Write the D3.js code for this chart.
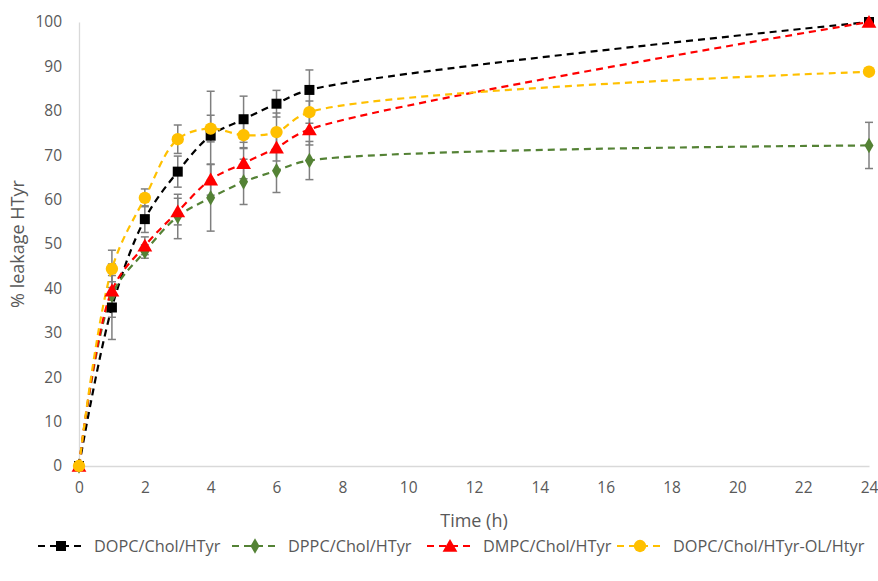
<!DOCTYPE html>
<html><head><meta charset="utf-8">
<script src="https://cdn.jsdelivr.net/npm/d3@7"></script>
<style>body{margin:0;background:#fff}svg{display:block}text{font-family:"Open Sans","Noto Sans",sans-serif;fill:#595959}</style>
</head><body><svg id="c" width="878" height="581"></svg>
<script>
const times = [0, 1, 2, 3, 4, 5, 6, 7, 24];
const xTicks = [0, 2, 4, 6, 8, 10, 12, 14, 16, 18, 20, 22, 24];
const yTicks = [0, 10, 20, 30, 40, 50, 60, 70, 80, 90, 100];
const names = ["DOPC/Chol/HTyr", "DPPC/Chol/HTyr", "DMPC/Chol/HTyr", "DOPC/Chol/HTyr-OL/Htyr"];
const dopc = [0, 35.7, 55.6, 66.3, 74.4, 78.1, 81.6, 84.7, 100];
const dppc = [0, 38.5, 48.3, 56.2, 60.4, 64.0, 66.5, 68.8, 72.2];
const dmpc = [0, 39.5, 49.6, 57.3, 64.5, 68.2, 71.7, 75.8, 100];
const dopcOl = [0, 44.4, 60.4, 73.6, 76.0, 74.5, 75.2, 79.7, 88.8];
const dopcErr = [0, 7.2, 3, 3.5, 10, 5.2, 3, 4.5, 0];
const dppcErr = [0, 3, 1.5, 5, 7.5, 5.1, 4.9, 4.3, 5.2];
const dmpcErr = [0, 6, 2, 3, 3.5, 3.5, 3, 3.5, 0];
const dopcOlErr = [0, 4.2, 2, 3.2, 3, 3, 4.3, 2.5, 0];
const colors = ["#000000", "#548235", "#ff0000", "#ffc000"];
const symbols = [d3.symbolSquare, d3.symbolDiamond, d3.symbolTriangle, d3.symbolCircle];
const sizes = [100, 70, 95, 120];
const values = [dopc, dppc, dmpc, dopcOl];
const errs = [dopcErr, dppcErr, dmpcErr, dopcOlErr];

const svg = d3.select("#c");
const x = d3.scaleLinear().domain([0, 24]).range([79, 869]);
const y = d3.scaleLinear().domain([0, 100]).range([466, 22]);

// axes
const xa = svg.append("g").attr("transform", `translate(0,${y(0)})`)
  .call(d3.axisBottom(x).tickValues(xTicks).tickSize(0).tickPadding(20));
const ya = svg.append("g").attr("transform", `translate(${x(0)},0)`)
  .call(d3.axisLeft(y).tickValues(yTicks).tickSize(0).tickPadding(17));
[xa, ya].forEach(a => {
  a.select(".domain").attr("stroke", "#d9d9d9").attr("stroke-width", 1.3);
  a.selectAll("text").style("font-size", "15.5px").attr("fill", "#595959").attr("font-family", '"Open Sans",sans-serif');
});
xa.selectAll("text").attr("dy", "0.45em");

svg.append("text").attr("x", x(12)).attr("y", 527).attr("text-anchor", "middle")
  .style("font-size", "18px").text("Time (h)");
svg.append("text").attr("transform", `translate(24,${y(50)}) rotate(-90)`).attr("text-anchor", "middle")
  .style("font-size", "18px").text("% leakage HTyr");

const line = d3.line().x((d, i) => x(times[i])).y(d => y(d)).curve(d3.curveCatmullRom.alpha(0.5));

// error bars
values.forEach((vals, s) => {
  const g = svg.append("g").attr("stroke", "#7f7f7f").attr("stroke-width", 1.5);
  vals.forEach((v, i) => {
    const e = errs[s][i];
    if (!e) return;
    const cx = x(times[i]);
    g.append("line").attr("x1", cx).attr("x2", cx).attr("y1", y(v - e)).attr("y2", y(v + e));
    g.append("line").attr("x1", cx - 4).attr("x2", cx + 4).attr("y1", y(v - e)).attr("y2", y(v - e));
    g.append("line").attr("x1", cx - 4).attr("x2", cx + 4).attr("y1", y(v + e)).attr("y2", y(v + e));
  });
});

// lines and markers
values.forEach((vals, s) => {
  svg.append("path").attr("d", line(vals)).attr("fill", "none").attr("stroke", colors[s])
    .attr("stroke-width", 2.2).attr("stroke-dasharray", "7,5");
});
values.forEach((vals, s) => {
  svg.append("g").selectAll("path").data(vals).join("path")
    .attr("transform", (d, i) => `translate(${x(times[i])},${y(d) + (s === 2 ? 1.5 : 0)})`)
    .attr("d", d3.symbol().type(symbols[s]).size(sizes[s])).attr("fill", colors[s]);
});

// legend
const legX = [38, 232, 427, 617];
names.forEach((n, s) => {
  const g = svg.append("g").attr("transform", `translate(${legX[s]},546)`);
  g.append("line").attr("x1", 0).attr("x2", 46).attr("y1", 0).attr("y2", 0).attr("stroke", colors[s])
    .attr("stroke-width", 2.2).attr("stroke-dasharray", "7,5");
  g.append("path").attr("transform", `translate(23,${s === 2 ? 1.5 : 0})`)
    .attr("d", d3.symbol().type(symbols[s]).size(sizes[s])).attr("fill", colors[s]);
  g.append("text").attr("x", 56).attr("y", 0).attr("dy", "0.35em").style("font-size", "16.3px").text(n);
});
</script></body></html>
